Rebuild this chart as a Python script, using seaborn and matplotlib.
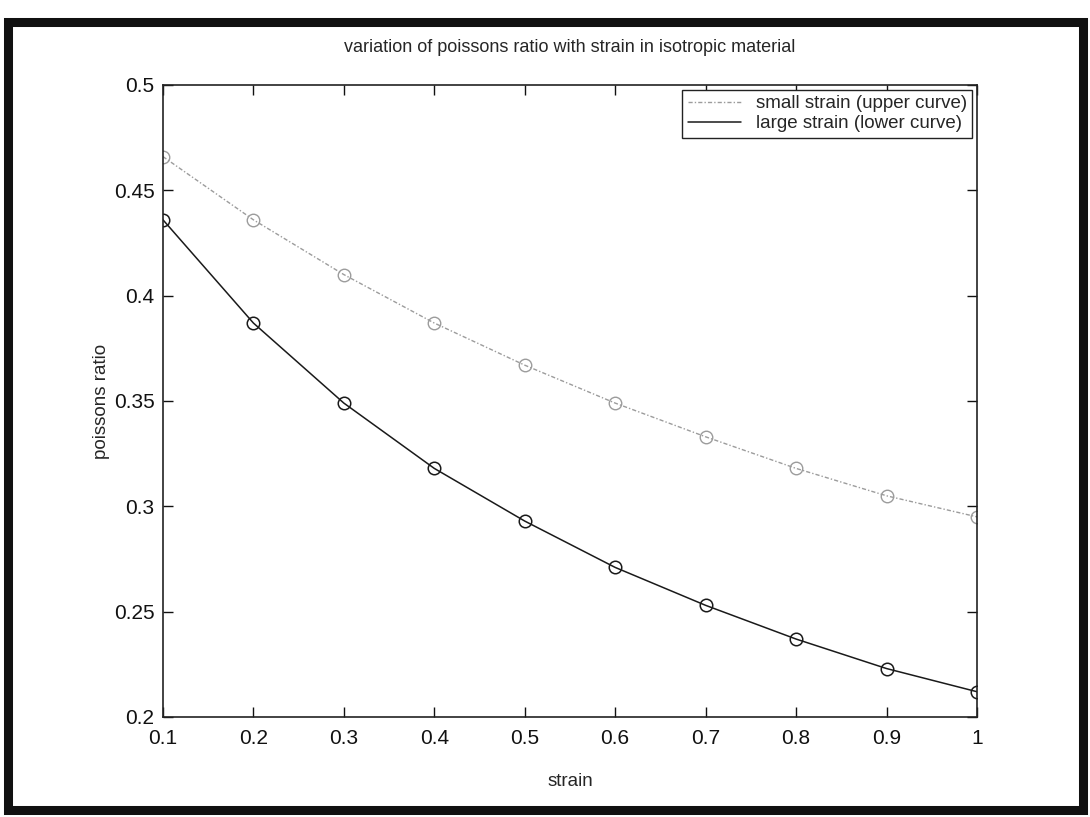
import matplotlib
matplotlib.use("Agg")
import matplotlib.pyplot as plt
import seaborn as sns
import pandas as pd
from matplotlib.lines import Line2D
from matplotlib.patches import Rectangle

# ---- data ----
strain = [0.1, 0.2, 0.3, 0.4, 0.5, 0.6, 0.7, 0.8, 0.9, 1.0]
small_strain = [0.466, 0.436, 0.410, 0.387, 0.367, 0.349, 0.333, 0.318, 0.305, 0.295]
large_strain = [0.436, 0.387, 0.349, 0.318, 0.293, 0.271, 0.253, 0.237, 0.223, 0.212]
x_ticks = [0.1, 0.2, 0.3, 0.4, 0.5, 0.6, 0.7, 0.8, 0.9, 1.0]
y_ticks = [0.2, 0.25, 0.3, 0.35, 0.4, 0.45, 0.5]
labels = ["small strain (upper curve)", "large strain (lower curve)"]

sns.set_style("ticks")
plt.rcParams["font.family"] = ["Liberation Sans", "DejaVu Sans"]

fig = plt.figure(figsize=(10.9, 8.17), dpi=100)
ax = fig.add_axes([0.1495, 0.1224, 0.7468, 0.7736])

df = pd.DataFrame({"strain": strain, "small": small_strain, "large": large_strain})

upper_color = "#9c9c9c"
lower_color = "#1a1a1a"
upper_ls = (0, (3, 1.5, 1, 1.5))

sns.lineplot(data=df, x="strain", y="small", ax=ax, color=upper_color,
             linestyle=upper_ls, linewidth=1.0, marker="o", markersize=9,
             markerfacecolor="none", markeredgecolor=upper_color,
             markeredgewidth=1.0)
sns.lineplot(data=df, x="strain", y="large", ax=ax, color=lower_color,
             linestyle="-", linewidth=1.1, marker="o", markersize=9,
             markerfacecolor="none", markeredgecolor=lower_color,
             markeredgewidth=1.1)

ax.set_xlim(0.1, 1.0)
ax.set_ylim(0.2, 0.5)
ax.set_xticks(x_ticks)
ax.set_yticks(y_ticks)
ax.set_xticklabels([f"{v:g}" for v in x_ticks])
ax.set_yticklabels([f"{v:g}" for v in y_ticks])
ax.tick_params(direction="in", length=7, width=1, labelsize=15, colors="#111111",
               top=True, right=True)
ax.tick_params(axis="x", pad=9)
ax.tick_params(axis="y", pad=6)
for s in ax.spines.values():
    s.set_visible(True)
    s.set_linewidth(1.2)
    s.set_color("#222222")

ax.set_xlabel("strain", fontsize=13.5, labelpad=18)
ax.set_ylabel("poissons ratio", fontsize=13.5, labelpad=3)
ax.set_title("variation of poissons ratio with strain in isotropic material",
             fontsize=13, pad=24)

handles = [Line2D([], [], color=upper_color, linestyle=upper_ls, linewidth=1.0),
           Line2D([], [], color=lower_color, linestyle="-", linewidth=1.1)]
leg = ax.legend(handles, labels, loc="upper right", fontsize=13.5, frameon=True,
                fancybox=False, edgecolor="#222222", framealpha=1,
                handlelength=2.8, borderpad=0.3, labelspacing=0.15,
                borderaxespad=0.25)
leg.get_frame().set_linewidth(1.0)

fig.patches.append(Rectangle((0.0073, 0.0086), 0.9863, 0.9644,
                             transform=fig.transFigure, fill=False,
                             edgecolor="#111111", linewidth=6.5))

fig.savefig("out.png", dpi=100, facecolor="white")
